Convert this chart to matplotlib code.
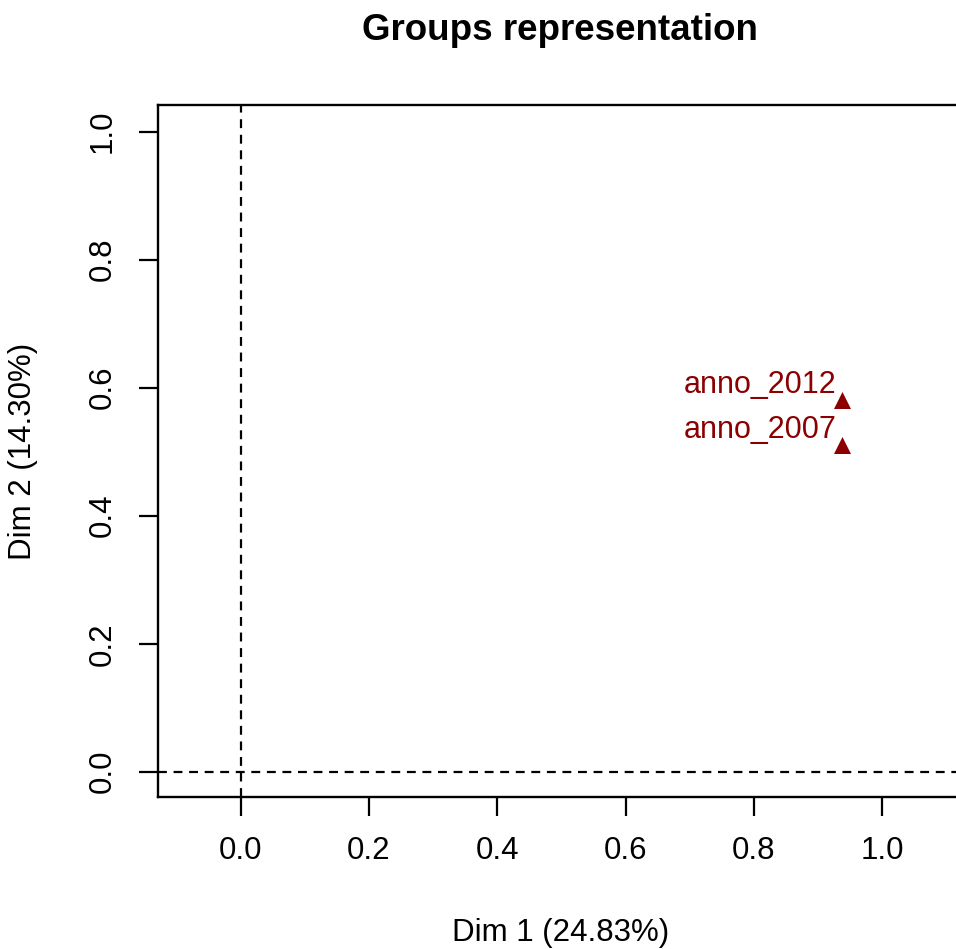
import numpy as np
import matplotlib
matplotlib.use("Agg")
import matplotlib.pyplot as plt

plt.rcParams['font.family'] = ['Liberation Sans', 'DejaVu Sans']

# group coordinates on the first two dimensions
groups = ["anno_2012", "anno_2007"]
dim1 = [0.938, 0.938]
dim2 = [0.581, 0.511]

xticks = [0.0, 0.2, 0.4, 0.6, 0.8, 1.0]
yticks = [0.0, 0.2, 0.4, 0.6, 0.8, 1.0]

W, H = 956, 949
fig = plt.figure(figsize=(W / 100, H / 100), dpi=100)

# box in pixels: left 157.5, right ~963 (just past the edge), top 105, bottom 796.7
ax = fig.add_axes([157.5 / W, 1 - 796.7 / H, (963 - 157.5) / W, (796.7 - 105) / H])
ax.set_xlim(-0.1298, 1.126)
ax.set_ylim(-0.039, 1.0417)

ax.axhline(0, color='black', lw=1.6, ls=(0, (4, 3)))
ax.axvline(0, color='black', lw=1.6, ls=(0, (4, 3)))

ax.scatter(dim1, dim2, marker='^', s=150, color='#8B0000', zorder=3, linewidths=0)
for name, x, y in zip(groups, dim1, dim2):
    ax.annotate(name, (x, y), xytext=(-6, 15), textcoords='offset pixels',
                ha='right', va='center', color='#8B0000', fontsize=22)

ax.set_xticks(xticks)
ax.set_yticks(yticks)
ax.set_xticklabels([f"{t:.1f}" for t in xticks])
ax.set_yticklabels([f"{t:.1f}" for t in yticks], rotation=90, va='center')
ax.tick_params(axis='both', length=13.5, width=1.6, pad=15, labelsize=22.5)

for s in ax.spines.values():
    s.set_linewidth(1.7)

fig.text(560 / W, 1 - 30 / H, "Groups representation", ha='center', va='center',
         fontsize=26.5, fontweight='bold')
fig.text(561 / W, 1 - 933 / H, "Dim 1 (24.83%)", ha='center', va='center', fontsize=22.5)
fig.text(23 / W, 1 - 451 / H, "Dim 2 (14.30%)", ha='center', va='center',
         rotation=90, fontsize=22.5)

fig.savefig("out.png", dpi=100)
